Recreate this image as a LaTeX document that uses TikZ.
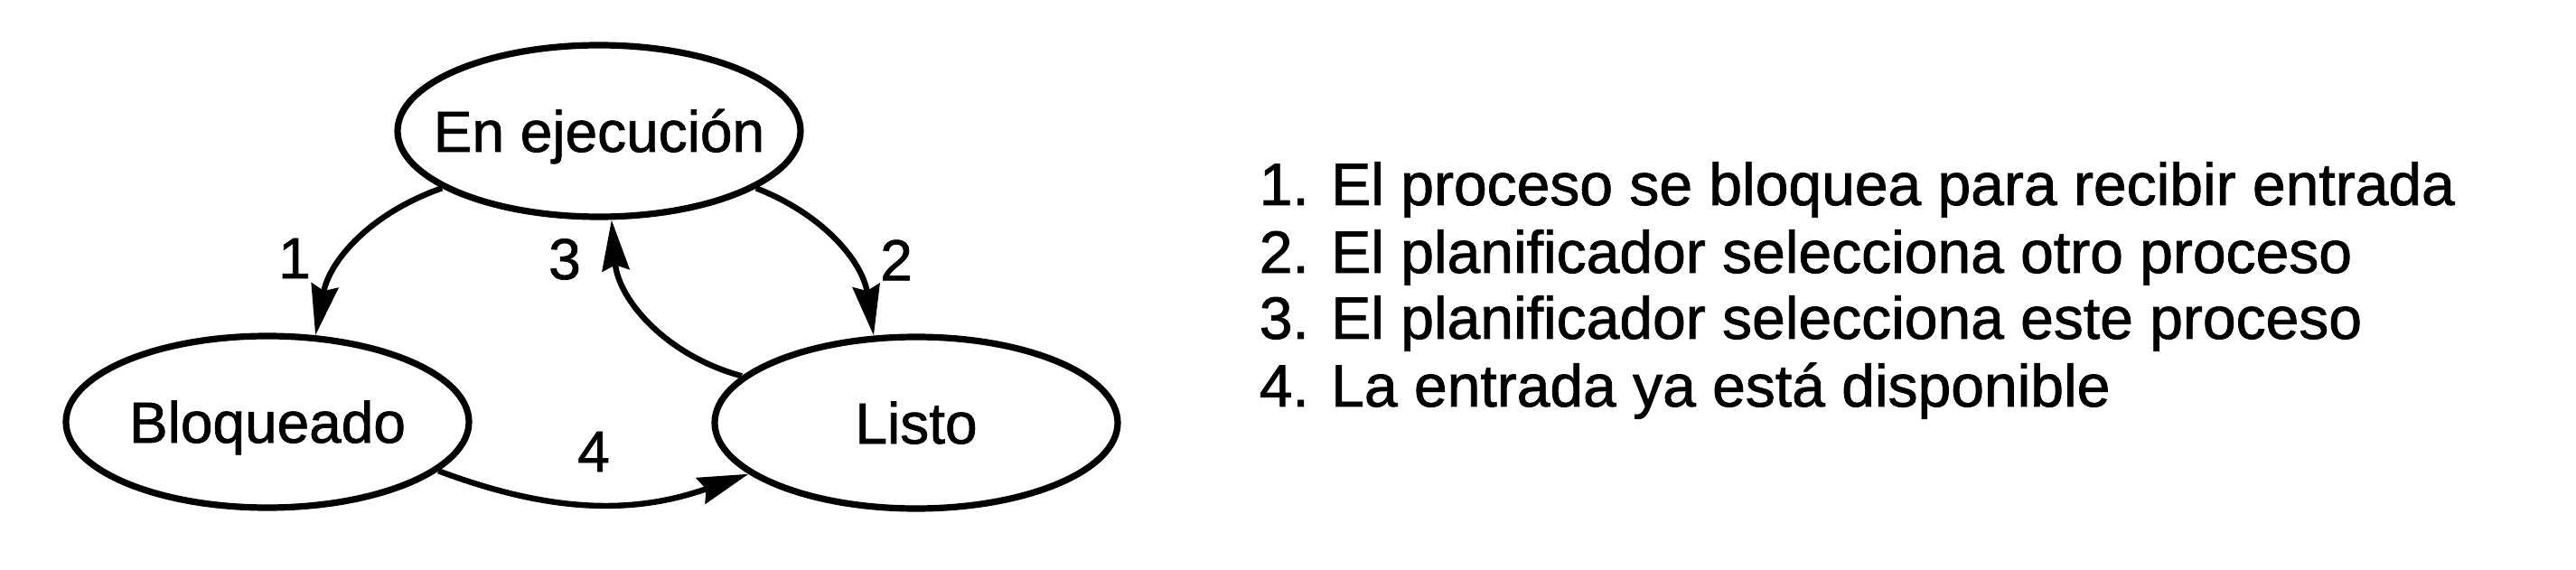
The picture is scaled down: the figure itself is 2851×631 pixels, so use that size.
\documentclass[tikz,border=0pt]{standalone}
\usepackage{fontspec}
\setmainfont{Liberation Sans}[FakeBold=1.2]
\usetikzlibrary{arrows.meta,shapes.geometric}

\begin{document}
\begin{tikzpicture}[x=0.25pt, y=-0.25pt,
    state/.style={draw, ellipse, line width=1.8pt, inner sep=0pt,
      minimum width=111.5pt, minimum height=47.5pt,
      text height=11.5pt, text depth=0pt, font=\fontsize{16}{19}\selectfont},
    trans/.style={-{Stealth[length=14pt, width=7.5pt, inset=1.5pt]}, line width=1.6pt},
    num/.style={inner sep=0pt, font=\fontsize{16}{19}\selectfont},
    item/.style={anchor=base west, inner sep=0pt, font=\fontsize{16.5}{19}\selectfont}]
    \useasboundingbox (0,0) rectangle (2851,631);
    % states
    \node[state] (ejec) at (663,145) {\makebox[0pt]{En ejecución}};
    \node[state] (bloq) at (296,467) {\makebox[0pt]{Bloqueado}};
    \node[state] (listo) at (1014,468) {\makebox[0pt]{Listo}};
    % transitions
    \draw[trans] (ejec.200) to[bend right=30] (bloq.61);
    \draw[trans] (ejec.340) to[bend left=30] (listo.116);
    \draw[trans] (listo.165) to[bend left=35] (ejec.278);
    \draw[trans] (bloq.344) to[bend right=20] (listo.197);
    \node[num] (n1) at (326,286) {1};
    \node[num] (n2) at (992,288) {2};
    \node[num] (n3) at (625,287) {3};
    \node[num] (n4) at (657,500) {4};
    % legend
    \node[item] (item1) at (1393,227) {1. El proceso se bloquea para recibir entrada};
    \node[item] (item2) at (1393,302) {2. El planificador selecciona otro proceso};
    \node[item] (item3) at (1393,375) {3. El planificador selecciona este proceso};
    \node[item] (item4) at (1393,450) {4. La entrada ya está disponible};
\end{tikzpicture}
\end{document}
